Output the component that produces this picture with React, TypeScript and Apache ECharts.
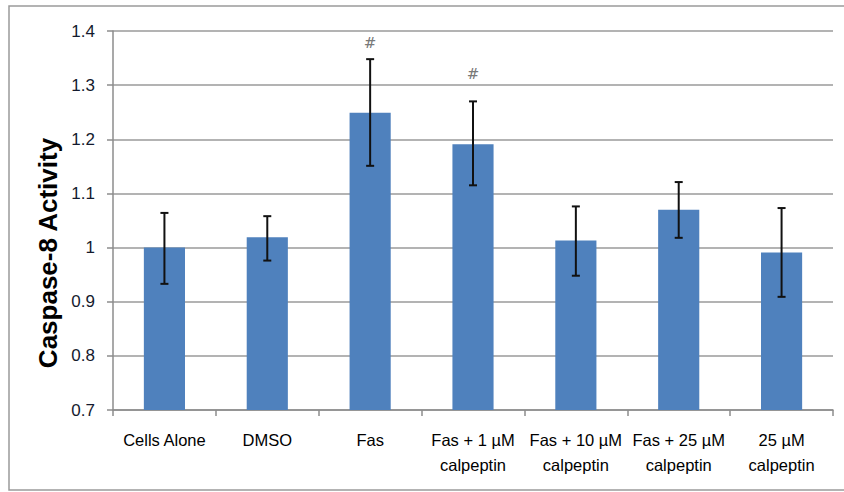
import React, { useEffect, useRef } from "react";
import * as echarts from "echarts";

const categories = [
  "Cells Alone",
  "DMSO",
  "Fas",
  "Fas + 1 µM\ncalpeptin",
  "Fas + 10 µM\ncalpeptin",
  "Fas + 25 µM\ncalpeptin",
  "25 µM\ncalpeptin",
];
const means = [1.0, 1.019, 1.249, 1.191, 1.013, 1.07, 0.991];
const errLow = [0.933, 0.976, 1.151, 1.115, 0.948, 1.018, 0.909];
const errHigh = [1.064, 1.058, 1.348, 1.27, 1.076, 1.121, 1.073];
const hashMarks: (number | null)[] = [null, null, 1.378, 1.32, null, null, null];
const yTicks = [0.7, 0.8, 0.9, 1, 1.1, 1.2, 1.3, 1.4];
const yTitle = "Caspase-8 Activity";

const labelFont = '"Liberation Sans Narrow", "Arial Narrow", "Liberation Sans", sans-serif';

export default function App() {
  const ref = useRef<HTMLDivElement>(null);
  useEffect(() => {
    if (!ref.current) return;
    const chart = echarts.init(ref.current, null, { renderer: "svg" });
    const errData = categories.map((_, i) => [i, errLow[i], errHigh[i]]);
    const hashData = categories.map((_, i) => [i, hashMarks[i]]).filter((d) => d[1] !== null);
    chart.setOption({
      animation: false,
      backgroundColor: "#ffffff",
      graphic: [
        {
          type: "rect",
          shape: { x: 9, y: 6, width: 850, height: 484 },
          style: { fill: "none", stroke: "#9a9a9a", lineWidth: 1.5 },
          silent: true,
          z: -1,
        },
        {
          type: "text",
          x: 48,
          y: 253,
          rotation: Math.PI / 2,
          style: {
            text: yTitle,
            fontFamily: "Liberation Sans, Arial, sans-serif",
            fontWeight: "bold",
            fontSize: 26,
            fill: "#000",
            align: "center",
            verticalAlign: "middle",
          },
        },
      ],
      grid: { left: 113, right: 11, top: 31, bottom: 82, containLabel: false },
      xAxis: {
        type: "category",
        data: categories,
        axisLine: { lineStyle: { color: "#8c8c8c", width: 1.5 } },
        axisTick: { show: true, length: 6, lineStyle: { color: "#8c8c8c", width: 1.5 } },
        axisLabel: {
          color: "#000",
          fontFamily: labelFont,
          fontSize: 16.5,
          lineHeight: 25,
          margin: 17,
          interval: 0,
        },
      },
      yAxis: {
        type: "value",
        min: 0.7,
        max: 1.4,
        interval: 0.1,
        axisLine: { show: true, lineStyle: { color: "#8c8c8c", width: 1.5 } },
        axisTick: { show: true, length: 6, lineStyle: { color: "#8c8c8c", width: 1.5 } },
        splitLine: { show: true, lineStyle: { color: "#9a9a9a", width: 1.5 } },
        axisLabel: {
          color: "#141a2e",
          fontFamily: labelFont,
          fontSize: 17,
          margin: 18,
          formatter: (v: number) => {
            const t = yTicks.find((y) => Math.abs(y - v) < 1e-6);
            return t === undefined ? "" : String(t);
          },
        },
      },
      series: [
        {
          type: "bar",
          data: means,
          barWidth: "40%",
          itemStyle: { color: "#4f81bd" },
          z: 2,
        },
        {
          type: "custom",
          data: errData,
          z: 5,
          renderItem: (params: any, api: any) => {
            const x = api.value(0);
            const lo = api.coord([x, api.value(1)]);
            const hi = api.coord([x, api.value(2)]);
            const hw = 4;
            const style = { stroke: "#111", lineWidth: 2 };
            return {
              type: "group",
              children: [
                { type: "line", shape: { x1: lo[0], y1: lo[1], x2: hi[0], y2: hi[1] }, style },
                { type: "line", shape: { x1: lo[0] - hw, y1: lo[1], x2: lo[0] + hw, y2: lo[1] }, style },
                { type: "line", shape: { x1: hi[0] - hw, y1: hi[1], x2: hi[0] + hw, y2: hi[1] }, style },
              ],
            };
          },
        },
        {
          type: "scatter",
          data: hashData,
          symbolSize: 0,
          label: {
            show: true,
            position: "inside",
            formatter: "#",
            color: "#555",
            fontSize: 15,
            fontFamily: "DejaVu Serif, serif",
          },
          z: 6,
        },
      ],
    });
    return () => chart.dispose();
  }, []);
  return <div ref={ref} style={{ width: 844, height: 492, position: "absolute", left: 0, top: 0 }} />;
}
